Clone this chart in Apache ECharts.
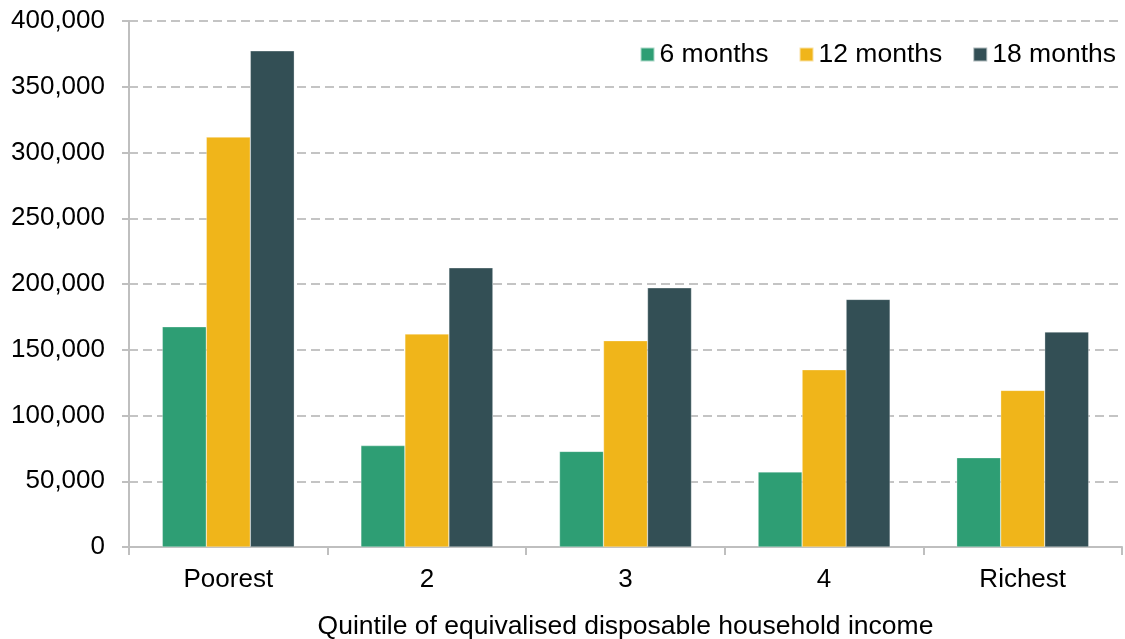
<!DOCTYPE html>
<html>
<head>
<meta charset="utf-8">
<script src="https://cdn.jsdelivr.net/npm/echarts@6/dist/echarts.min.js"></script>
<style>
  html, body { margin: 0; padding: 0; background: #fff; }
  #chart { width: 1125px; height: 639px; }
</style>
</head>
<body>
<div id="chart"></div>
<script>
'use strict';
var categories = ['Poorest', '2', '3', '4', 'Richest'];
var seriesNames = ['6 months', '12 months', '18 months'];
var months6 = [167500, 77100, 72700, 57100, 67900];
var months12 = [311700, 162000, 156900, 134800, 119100];
var months18 = [377300, 212300, 197100, 188300, 163500];
var colors = ['#2E9E74', '#F0B51A', '#334F55'];

var font = 'Liberation Sans, Arial, sans-serif';

function bar(name, data, color) {
	return {
		name: name,
		type: 'bar',
		data: data,
		barWidth: 44,
		barGap: '0%',
		itemStyle: { color: color, borderColor: 'rgba(255,255,255,0.6)', borderWidth: 0.5 }
	};
}

var chart = echarts.init(document.getElementById('chart'), null, { renderer: 'canvas' });
chart.setOption({
	animation: false,
	grid: { left: 129, right: 3, top: 21, bottom: 92, outerBoundsMode: 'none', containLabel: false },
	legend: {
		right: 4,
		top: 36,
		itemWidth: 14,
		itemHeight: 14,
		itemGap: 30,
		icon: 'rect',
		textStyle: { fontFamily: font, fontSize: 26.5, color: '#000' },
		data: seriesNames
	},
	xAxis: {
		type: 'category',
		data: categories,
		name: 'Quintile of equivalised disposable household income',
		nameLocation: 'middle',
		nameGap: 66,
		nameTextStyle: { fontFamily: font, fontSize: 26.5, color: '#000' },
		axisLine: { lineStyle: { color: '#bfbfbf', width: 2 } },
		axisTick: { show: true, length: 8, lineStyle: { color: '#bfbfbf', width: 2 } },
		axisLabel: { fontFamily: font, fontSize: 26, color: '#000', margin: 20 }
	},
	yAxis: {
		type: 'value',
		min: 0,
		max: 400000,
		interval: 50000,
		axisLine: { show: true, lineStyle: { color: '#bfbfbf', width: 2 } },
		axisTick: { show: true, length: 7, lineStyle: { color: '#bfbfbf', width: 2 } },
		axisLabel: {
			fontFamily: font, fontSize: 26, color: '#000', margin: 24,
			formatter: function (v) { return v.toLocaleString('en-GB'); }
		},
		splitLine: { lineStyle: { color: '#c4c4c4', width: 2, type: [9, 5] } }
	},
	series: [
		bar(seriesNames[0], months6, colors[0]),
		bar(seriesNames[1], months12, colors[1]),
		bar(seriesNames[2], months18, colors[2])
	]
});
</script>
</body>
</html>
